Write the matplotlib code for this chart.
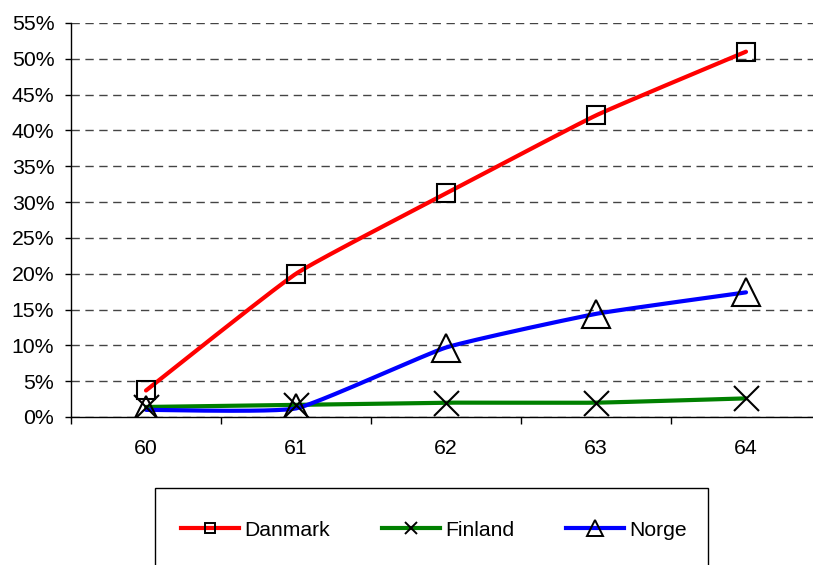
import matplotlib.pyplot as plt
from matplotlib.patches import Rectangle
from matplotlib.lines import Line2D
from matplotlib.ticker import FuncFormatter
import numpy as np

plt.rcParams['font.family'] = ['Liberation Sans', 'DejaVu Sans']

# Data (percent)
ages = [60, 61, 62, 63, 64]
danmark = [3.7, 20.0, 31.2, 42.1, 51.0]
finland = [1.4, 1.7, 2.0, 2.0, 2.6]
norge = [1.0, 1.2, 9.7, 14.4, 17.4]


def smooth(x, y, k=0.07, n=40):
    # Excel-style smoothed line (cubic bezier through the points)
    pts = np.column_stack([x, y]).astype(float)
    segs = []
    for i in range(len(pts) - 1):
        p0 = pts[max(i - 1, 0)]
        p1 = pts[i]
        p2 = pts[i + 1]
        p3 = pts[min(i + 2, len(pts) - 1)]
        c1 = p1 + (p2 - p0) * k
        c2 = p2 - (p3 - p1) * k
        t = np.linspace(0, 1, n)[:, None]
        seg = (1 - t)**3 * p1 + 3 * (1 - t)**2 * t * c1 + 3 * (1 - t) * t**2 * c2 + t**3 * p2
        segs.append(seg if i == 0 else seg[1:])
    s = np.vstack(segs)
    return s[:, 0], s[:, 1]


fig = plt.figure(figsize=(8.13, 5.65), dpi=100)
ax = fig.add_axes([71 / 813, 148 / 565, 750 / 813, 394 / 565])

series = [
    ('Danmark', danmark, '#ff0000', 's', 13, 7.5),
    ('Finland', finland, '#008000', 'x', 18, 9),
    ('Norge', norge, '#0000ff', '^', 20, 11),
]

handles = []
for name, vals, col, mk, ms, lms in series:
    sx, sy = smooth(ages, vals)
    ax.plot(sx, sy, color=col, lw=3, solid_capstyle='round', zorder=3)
    ax.plot(ages, vals, ls='none', marker=mk, ms=ms, mfc='none', mec='black',
            mew=1.5, zorder=4)
    handles.append(Line2D([0], [0], color=col, lw=3, marker=mk, ms=lms,
                          mfc='none', mec='black', mew=1.4, label=name))

ax.set_xlim(59.5, 64.5)
ax.set_ylim(0, 55)
ax.set_yticks(np.arange(0, 56, 5))
ax.yaxis.set_major_formatter(FuncFormatter(lambda v, p: f'{v:.0f}%'))
ax.set_xticks(ages)
ax.set_xticks(np.arange(59.5, 64.6, 1), minor=True)
ax.tick_params(axis='x', which='major', length=0, pad=16, labelsize=15.3)
ax.tick_params(axis='x', which='minor', length=5, width=1, direction='out')
ax.tick_params(axis='y', length=4, width=1, pad=8, labelsize=15.3)

ax.yaxis.grid(True, linestyle=(0, (6, 4)), color='#444444', lw=1)
ax.set_axisbelow(True)
for s in ['top', 'right']:
    ax.spines[s].set_visible(False)
for s in ['left', 'bottom']:
    ax.spines[s].set_linewidth(1)
    ax.spines[s].set_zorder(5)

# Legend box, cut by the bottom of the picture
fig.patches.append(Rectangle((155 / 813, -0.1), 553 / 813, 0.1 + 77 / 565,
                             transform=fig.transFigure, facecolor='white',
                             edgecolor='black', lw=1))
fig.legend(handles=handles, loc='center', bbox_to_anchor=(434 / 813, 35 / 565),
           ncol=3, frameon=False, fontsize=15.2, handlelength=2.75,
           handletextpad=0.25, columnspacing=2.45)

fig.savefig('out.png', dpi=100)
